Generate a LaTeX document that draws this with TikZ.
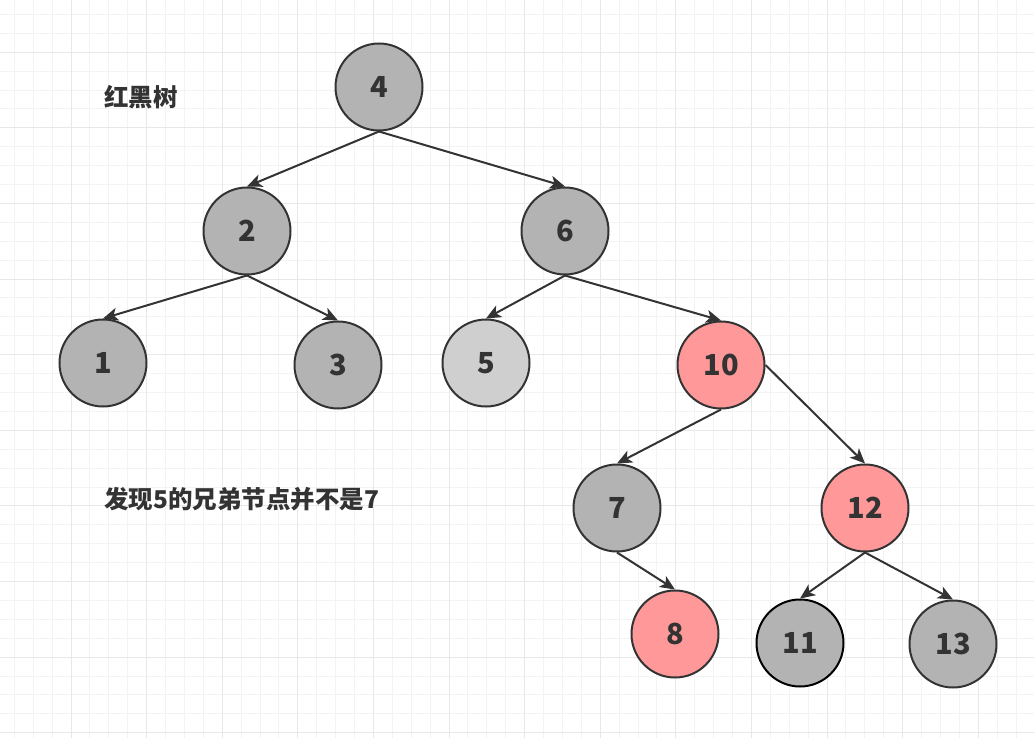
\documentclass[tikz,border=0pt]{standalone}
\usepackage{fontspec}
\setmainfont{Noto Sans CJK SC}
\usepackage{tikz}
\usetikzlibrary{arrows.meta}
\usetikzlibrary{positioning}
\definecolor{inkgray}{HTML}{333333}
\definecolor{blackfill}{HTML}{B3B3B3}
\definecolor{lightfill}{HTML}{CFCFCF}
\definecolor{redfill}{HTML}{FF9999}
\definecolor{gridminor}{HTML}{F3F3F3}
\definecolor{gridmajor}{HTML}{E8E8E8}
\tikzset{
    rbnode/.style={
        draw=inkgray,
        circle,
        line width=2pt,
        minimum size=87pt,
        inner sep=0pt,
        text=inkgray,
        font=\fontsize{29}{32}\selectfont\bfseries
    },
    blacknode/.style={rbnode, fill=blackfill},
    rednode/.style={rbnode, fill=redfill},
    treeedge/.style={
        draw=inkgray,
        line width=2pt,
        -{Stealth[length=15pt, width=13pt, inset=4pt]}
    },
    caption/.style={
        anchor=west,
        inner sep=0pt,
        text=inkgray,
        font=\fontsize{24.5}{28}\selectfont\bfseries
    }
}

\begin{document}
\begin{tikzpicture}[x=1pt, y=-1pt]
    \useasboundingbox (0,0) rectangle (1034,738);
    % Grid
    \foreach \i in {0,...,54} {
        \draw[gridminor, line width=1pt] ({14.3+18.9*\i},0) -- ({14.3+18.9*\i},738);
    }
    \foreach \j in {0,...,38} {
        \draw[gridminor, line width=1pt] (0,{14.5+18.9*\j}) -- (1034,{14.5+18.9*\j});
    }
    \foreach \i in {0,...,13} {
        \draw[gridmajor, line width=1pt] ({71+75.6*\i},0) -- ({71+75.6*\i},738);
    }
    \foreach \j in {0,...,9} {
        \draw[gridmajor, line width=1pt] (0,{52.3+75.6*\j}) -- (1034,{52.3+75.6*\j});
    }

    % Labels
    \node[caption] (title) at (104,97) {红黑树};
    \node[caption] (note) at (104,499) {发现5的兄弟节点并不是7};

    % Vertices
    \node[blacknode] (n4) at (379,87) {4};
    \node[blacknode] (n2) at (247,231) {2};
    \node[blacknode] (n6) at (565,231) {6};
    \node[blacknode] (n1) at (103,363) {1};
    \node[blacknode] (n3) at (338,365) {3};
    \node[rbnode, fill=lightfill] (n5) at (486,363) {5};
    \node[rednode] (n10) at (721,365) {10};
    \node[blacknode] (n7) at (617,508) {7};
    \node[rednode] (n12) at (865,508) {12};
    \node[rednode] (n8) at (675,634) {8};
    \node[blacknode, draw=black] (n11) at (800,643) {11};
    \node[blacknode] (n13) at (953,644) {13};

    % Edges
    \draw[treeedge] (n4.south) -- (n2.north);
    \draw[treeedge] (n4.south) -- (n6.north);
    \draw[treeedge] (n2.south) -- (n1.north);
    \draw[treeedge] (n2.south) -- (n3.north);
    \draw[treeedge] (n6.south) -- (n5.north);
    \draw[treeedge] (n6.south) -- (n10.north);
    \draw[treeedge] (n10.south) -- (n7.north);
    \draw[treeedge] (n10.east) -- (n12.north);
    \draw[treeedge] (n7.south) -- (n8.north);
    \draw[treeedge] (n12.south) -- (n11.north);
    \draw[treeedge] (n12.south) -- (n13.north);
\end{tikzpicture}
\end{document}
